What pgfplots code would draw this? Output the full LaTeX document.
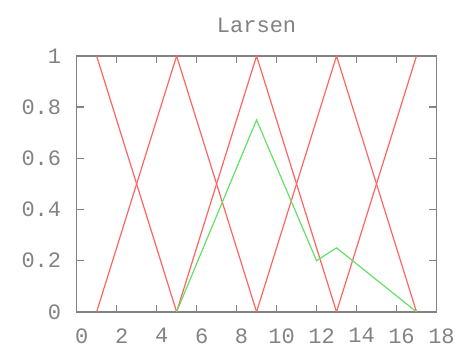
\documentclass[border=0pt]{standalone}
\usepackage{fontspec}
\setmainfont{Liberation Mono}
\usepackage{pgfplots}
\pgfplotsset{compat=1.18}
\definecolor{axgray}{RGB}{130,130,130}
\definecolor{fred}{RGB}{255,100,100}
\definecolor{fgreen}{RGB}{100,225,100}
\begin{document}
\begin{tikzpicture}[x=1pt,y=1pt]
\begin{axis}[
  scale only axis, width=360pt, height=256pt,
  xmin=0, xmax=18, ymin=0, ymax=1,
  xtick={0,2,...,18}, ytick={0,0.2,0.4,0.6,0.8,1},
  yticklabels={0,0.2,0.4,0.6,0.8,1},
  tick align=inside, tick pos=both,
  major tick length=7pt,
  axis line style={axgray, line width=1.5pt},
  tick style={axgray, line width=1.5pt},
  every tick label/.append style={font=\fontsize{22}{24}\selectfont, text=axgray},
  xticklabel style={xshift=5pt, yshift=-13pt},
  yticklabel style={xshift=-12pt},
  /pgf/number format/assume math mode=true,
  title={Larsen},
  title style={font=\fontsize{22}{24}\selectfont, text=axgray, yshift=14pt},
  every axis plot/.append style={line width=1.2pt},
]
\addplot[fred] coordinates {(1,1) (5,0)};
\addplot[fred] coordinates {(1,0) (5,1) (9,0)};
\addplot[fred] coordinates {(5,0) (9,1) (13,0)};
\addplot[fred] coordinates {(9,0) (13,1) (17,0)};
\addplot[fred] coordinates {(13,0) (17,1)};
\addplot[fgreen] coordinates {(5,0) (9,0.75) (12,0.2) (13,0.25) (17,0)};
\end{axis}
\useasboundingbox (-76.7,-36) rectangle (381.3,312);
\end{tikzpicture}
\end{document}
